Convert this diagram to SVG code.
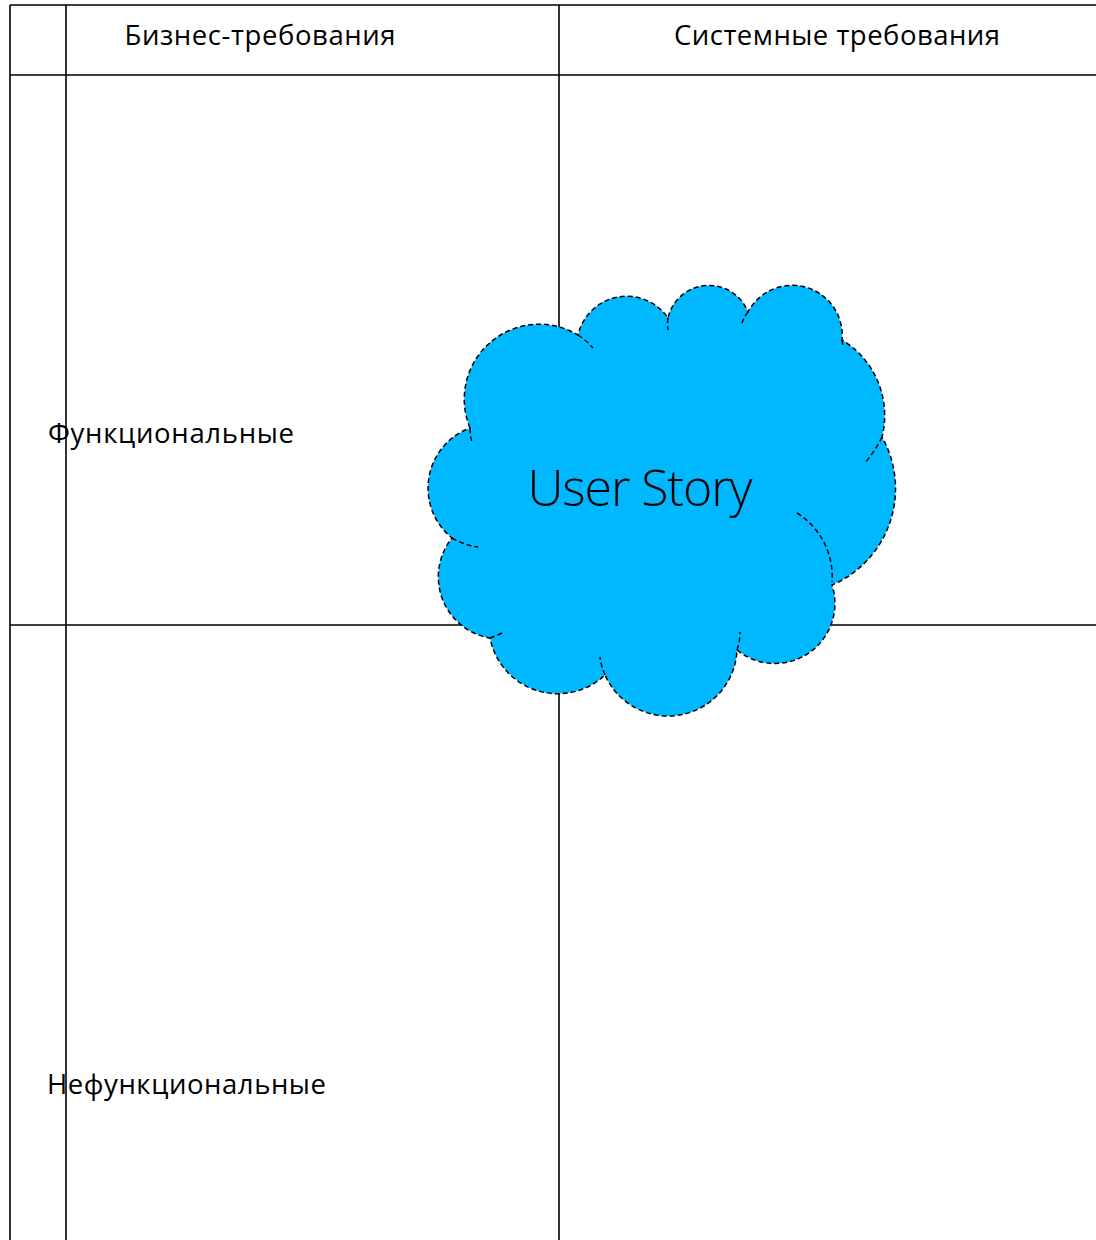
<svg xmlns="http://www.w3.org/2000/svg" width="1096" height="1240" viewBox="0 0 1096 1240">
<style>
.grid{stroke:#000;stroke-width:1.6;fill:none}
.lbl{font-family:"Open Sans","Noto Sans","Liberation Sans",sans-serif;font-size:27.5px;fill:#000}
.cloud{fill:#00B8FF;stroke:#000;stroke-width:1.5;stroke-dasharray:5 3}
.inner{fill:none;stroke:#000;stroke-width:1.5;stroke-dasharray:5 3}
</style>
<rect width="1096" height="1240" fill="#fff"/>
<g id="connectors">
<line class="grid" x1="10" y1="5" x2="1096" y2="5"/>
<line class="grid" x1="10" y1="75" x2="1096" y2="75"/>
<line class="grid" x1="10" y1="625" x2="1096" y2="625"/>
<line class="grid" x1="10" y1="5" x2="10" y2="1240"/>
<line class="grid" x1="66" y1="5" x2="66" y2="1240"/>
<line class="grid" x1="559" y1="5" x2="559" y2="1240"/>
</g>
<g id="header-business"><text class="lbl" x="260" y="45" text-anchor="middle" textLength="271">Бизнес-требования</text></g>
<g id="header-system"><text class="lbl" x="837" y="45" text-anchor="middle" textLength="326">Системные требования</text></g>
<g id="row-functional"><text class="lbl" x="48" y="443" textLength="246">Функциональные</text></g>
<g id="row-nonfunctional"><text class="lbl" x="47" y="1094" textLength="279">Нефункциональные</text></g>
<g id="user-story">
<path class="cloud" d="M 470 428 A 75 75 0 0 1 578 335 A 50 50 0 0 1 668 318 A 42 42 0 0 1 748 312 A 50 50 0 0 1 842 340 A 88 88 0 0 1 882 437 A 105 105 0 0 1 832 585 A 60 60 0 0 1 737 650 A 69 69 0 0 1 605 675 A 69 69 0 0 1 490 638 A 62 62 0 0 1 452 538 A 64 64 0 0 1 470 428 Z"/>
<path class="inner" d="M 470 428 Q 470 436 472 442 M 578 335 Q 587 341 593 348 M 668 318 Q 667 324 668 330 M 748 312 Q 744 317 742 323 M 842 340 L 843 346 M 882 437 Q 875 451 865 463 M 797 513 A 75 75 0 0 1 832 582 M 737 650 Q 740 641 740 632 M 605 675 Q 601 666 600 657 M 490 638 Q 496 636 502 633 M 452 538 Q 464 545 478 547"/>
<text x="640" y="506" text-anchor="middle" font-family="'Open Sans','Noto Sans','Liberation Sans',sans-serif" font-weight="300" font-size="50" textLength="225" fill="#000">User Story</text>
</g>
</svg>
